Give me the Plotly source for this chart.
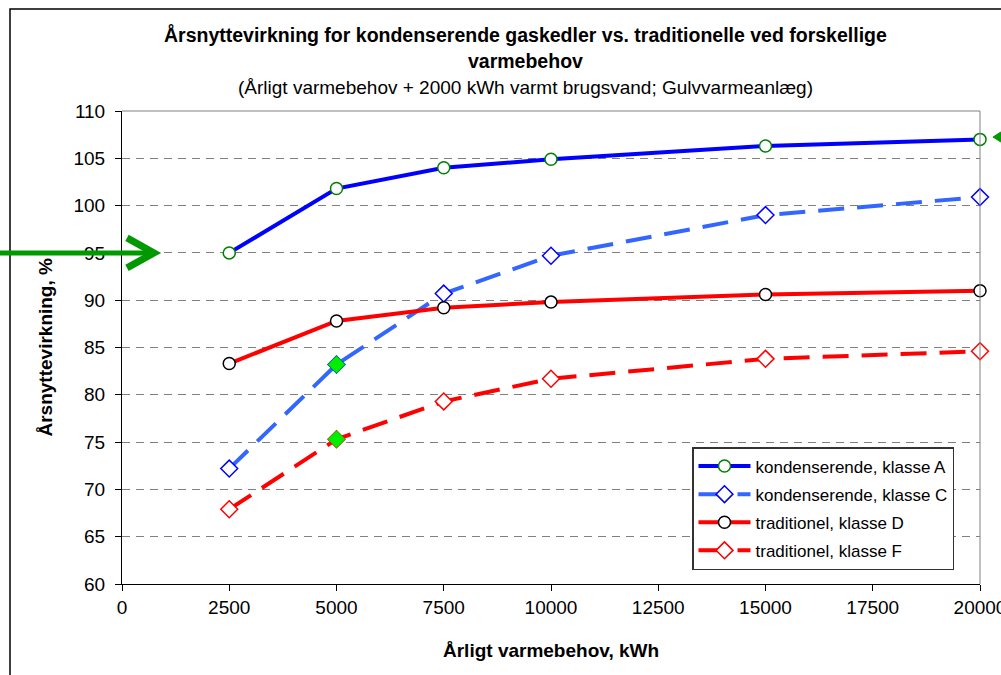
import plotly.graph_objects as go

# Annual heat demand (kWh) and seasonal efficiency (%) per boiler type
heat_demand = [2500, 5000, 7500, 10000, 15000, 20000]
cond_class_a = [95.0, 101.8, 104.0, 104.9, 106.3, 107.0]
cond_class_c = [72.2, 83.2, 90.7, 94.7, 99.0, 100.9]
trad_class_d = [83.3, 87.8, 89.2, 89.8, 90.6, 91.0]
trad_class_f = [67.9, 75.3, 79.3, 81.7, 83.8, 84.6]

x_ticks = [0, 2500, 5000, 7500, 10000, 12500, 15000, 17500, 20000]
y_ticks = [60, 65, 70, 75, 80, 85, 90, 95, 100, 105, 110]

FONT = "Liberation Sans, Arial, sans-serif"
W, H = 1001, 675
ML, MR, MT, MB = 122, 21, 111, 91
PW, PH = W - ML - MR, H - MT - MB
Y0, Y1 = 60, 110


def px_x(px):
    """horizontal pixel -> paper x"""
    return (px - ML) / PW


def px_y(py):
    """vertical pixel -> paper y"""
    return (H - MB - py) / PH


def du(px):
    """pixel length -> y data units"""
    return px * (Y1 - Y0) / PH


fig = go.Figure()

series = [
    ("kondenserende, klasse A", cond_class_a, "#0000FF", "solid", "circle", "#008000"),
    ("kondenserende, klasse C", cond_class_c, "#3366FF", "26px,13px", "diamond", "#0000FF"),
    ("traditionel, klasse D", trad_class_d, "#FF0000", "solid", "circle", "#000000"),
    ("traditionel, klasse F", trad_class_f, "#FF0000", "26px,13px", "diamond", "#FF0000"),
]

for i, (name, vals, col, dash, sym, mcol) in enumerate(series):
    fig.add_trace(go.Scatter(
        x=heat_demand, y=vals, name=name, mode="lines+markers",
        line=dict(color=col, width=4, dash=dash),
        marker=dict(symbol=sym, size=13 if sym == "diamond" else 12,
                    color="white", line=dict(color=mcol, width=1.5)),
        cliponaxis=False, legendgroup=f"g{i}",
    ))

# highlighted points at 5000 kWh
for vals in (cond_class_c, trad_class_f):
    fig.add_trace(go.Scatter(
        x=[heat_demand[1]], y=[vals[1]], mode="markers", showlegend=False,
        marker=dict(symbol="diamond", size=13, color="#00EE00",
                    line=dict(color="#00DD00", width=1)),
        hoverinfo="skip",
    ))

GREEN = "#009900"
ref_level = cond_class_a[0]
tip_x = px_x(154)
shapes = [
    # outer chart frame
    dict(type="rect", xref="paper", yref="paper",
         x0=px_x(10), x1=px_x(1100), y0=px_y(800), y1=px_y(9),
         line=dict(color="black", width=1.5), fillcolor="rgba(0,0,0,0)"),
    # top and right border of plot area
    dict(type="line", xref="paper", yref="paper", x0=0, x1=1, y0=1, y1=1,
         line=dict(color="#808080", width=1)),
    dict(type="line", xref="paper", yref="paper", x0=1, x1=1, y0=0, y1=1,
         line=dict(color="#808080", width=1)),
    # arrow marking the reference efficiency
    dict(type="line", xref="paper", yref="y", x0=px_x(-5), x1=tip_x - 0.002,
         y0=ref_level, y1=ref_level, line=dict(color=GREEN, width=5)),
    dict(type="path", xref="paper", yref="y",
         path=(f"M {px_x(127)},{ref_level + du(15)} L {tip_x},{ref_level} "
               f"L {px_x(127)},{ref_level - du(15)}"),
         line=dict(color=GREEN, width=7), fillcolor="rgba(0,0,0,0)"),
    # arrow head on the right edge
    dict(type="path", xref="paper", yref="y",
         path=(f"M {px_x(993)},{107.25} L {px_x(1015)},{107.25 + du(14)} "
               f"L {px_x(1015)},{107.25 - du(14)} Z"),
         line=dict(color=GREEN, width=1), fillcolor=GREEN),
]

annotations = [
    dict(text="<b>Årsnyttevirkning for kondenserende gaskedler vs. traditionelle ved forskellige</b>",
         xref="paper", yref="paper", x=px_x(525), y=px_y(35), showarrow=False,
         xanchor="center", yanchor="middle", font=dict(size=19.5, color="black", family=FONT)),
    dict(text="<b>varmebehov</b>",
         xref="paper", yref="paper", x=px_x(525), y=px_y(61), showarrow=False,
         xanchor="center", yanchor="middle", font=dict(size=19.5, color="black", family=FONT)),
    dict(text="(Årligt varmebehov + 2000 kWh varmt brugsvand; Gulvvarmeanlæg)",
         xref="paper", yref="paper", x=px_x(525), y=px_y(87), showarrow=False,
         xanchor="center", yanchor="middle", font=dict(size=19, color="black", family=FONT)),
    dict(text="<b>Årligt varmebehov, kWh</b>",
         xref="paper", yref="paper", x=0.5, y=px_y(650), showarrow=False,
         xanchor="center", yanchor="middle", font=dict(size=19, color="black", family=FONT)),
    dict(text="<b>Årsnyttevirkning, %</b>", textangle=-90,
         xref="paper", yref="paper", x=px_x(45), y=0.5, showarrow=False,
         xanchor="center", yanchor="middle", font=dict(size=19, color="black", family=FONT)),
]

fig.update_layout(
    width=W, height=H, autosize=False,
    margin=dict(l=ML, r=MR, t=MT, b=MB, pad=0, autoexpand=False),
    paper_bgcolor="white", plot_bgcolor="white",
    font=dict(family=FONT, color="black"),
    showlegend=True,
    legend=dict(x=px_x(692), y=px_y(447), xanchor="left", yanchor="top",
                bgcolor="white", bordercolor="#333333", borderwidth=1.5,
                font=dict(size=17, family=FONT, color="black"),
                tracegroupgap=3, traceorder="grouped", itemwidth=52),
    shapes=shapes, annotations=annotations,
    xaxis=dict(range=[0, 20000], tickvals=x_ticks, ticktext=[str(v) for v in x_ticks],
               showgrid=False, zeroline=False, showline=True, linecolor="black", linewidth=1,
               ticks="outside", ticklen=6, tickcolor="black", ticklabeloverflow="allow",
               automargin=False,
               tickfont=dict(size=19, family=FONT, color="black")),
    yaxis=dict(range=[Y0, Y1], tickvals=y_ticks, ticktext=[str(v) for v in y_ticks],
               showgrid=True, gridcolor="#808080", gridwidth=1, griddash="8px,6px",
               zeroline=False, showline=True, linecolor="black", linewidth=1,
               ticks="outside", ticklen=6, tickcolor="black", ticklabelstandoff=6,
               automargin=False,
               tickfont=dict(size=19, family=FONT, color="black")),
)

fig.write_html("out.html")
